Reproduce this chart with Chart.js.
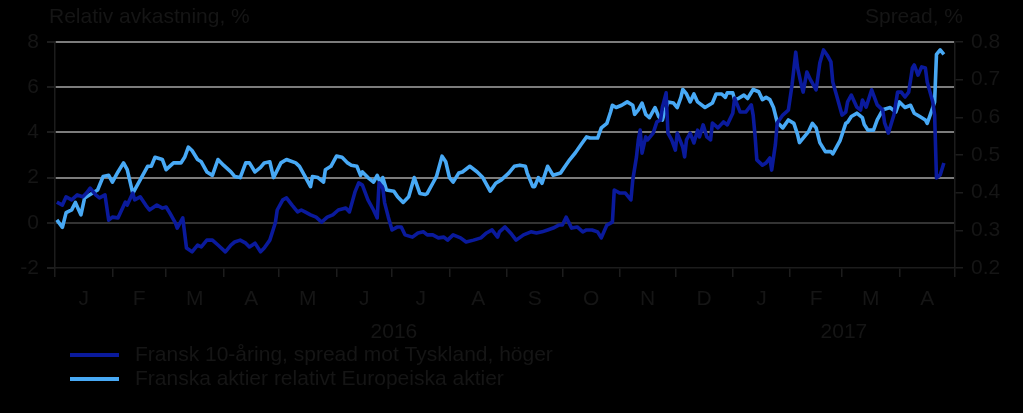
<!DOCTYPE html>
<html>
<head>
<meta charset="utf-8">
<script src="https://cdn.jsdelivr.net/npm/chart.js@4"></script>
<style>
  html, body { margin: 0; padding: 0; background: #000; }
</style>
</head>
<body>
<canvas id="myGraph" width="1023" height="413"></canvas>
<script>
// Månader (dagar från 1 jan 2016)
const monthLabels = ["J", "F", "M", "A", "M", "J", "J", "A", "S", "O", "N", "D", "J", "F", "M", "A"];
const monthStarts = [0, 31, 60, 91, 121, 152, 182, 213, 244, 274, 305, 335, 366, 397, 425, 456, 486];
const yearLabels = ["2016", "2017"];
const yearCenters = [183, 426];

const spreadLabel = "Fransk 10-åring, spread mot Tyskland, höger";
const aktierLabel = "Franska aktier relativt Europeiska aktier";

// Spread, % (höger axel)
const spreadDays = [1, 4, 6, 9, 12, 15, 17, 19, 22, 24, 27, 29, 31, 34, 36, 38, 39, 42, 43, 46, 49, 51, 55, 58, 60, 62, 65, 66, 69, 70, 71, 74, 77, 79, 82, 85, 88, 92, 95, 97, 100, 103, 105, 108, 111, 113, 116, 119, 120, 123, 125, 128, 131, 133, 135, 138, 141, 144, 147, 150, 153, 157, 159, 162, 164, 166, 169, 172, 174, 175, 177, 178, 180, 182, 185, 187, 189, 193, 196, 199, 201, 204, 207, 210, 212, 215, 219, 222, 226, 230, 233, 236, 239, 240, 243, 246, 249, 253, 257, 260, 263, 266, 269, 272, 274, 276, 279, 282, 285, 287, 290, 293, 295, 298, 301, 302, 305, 308, 311, 312, 314, 315, 316, 317, 319, 320, 323, 325, 327, 328, 330, 331, 333, 335, 336, 339, 340, 341, 343, 345, 347, 348, 350, 352, 354, 355, 358, 361, 363, 366, 367, 370, 373, 376, 377, 378, 379, 382, 384, 386, 387, 389, 390, 393, 396, 398, 400, 401, 403, 404, 406, 408, 409, 411, 413, 415, 417, 419, 420, 422, 425, 427, 428, 430, 433, 435, 436, 438, 441, 444, 447, 448, 450, 453, 455, 457, 459, 461, 463, 464, 466, 468, 470, 471, 474, 475, 476, 478, 480];
const spreadValues = [0.375, 0.367, 0.389, 0.381, 0.394, 0.389, 0.399, 0.412, 0.394, 0.386, 0.394, 0.327, 0.335, 0.333, 0.354, 0.375, 0.367, 0.399, 0.381, 0.389, 0.367, 0.354, 0.367, 0.359, 0.362, 0.346, 0.320, 0.306, 0.333, 0.293, 0.253, 0.243, 0.261, 0.256, 0.274, 0.274, 0.261, 0.243, 0.261, 0.269, 0.274, 0.266, 0.256, 0.266, 0.243, 0.253, 0.274, 0.320, 0.354, 0.381, 0.386, 0.367, 0.349, 0.354, 0.349, 0.341, 0.335, 0.322, 0.335, 0.341, 0.354, 0.359, 0.349, 0.402, 0.426, 0.420, 0.381, 0.354, 0.333, 0.426, 0.412, 0.373, 0.335, 0.301, 0.309, 0.309, 0.288, 0.282, 0.293, 0.296, 0.288, 0.288, 0.280, 0.282, 0.274, 0.288, 0.280, 0.269, 0.274, 0.280, 0.293, 0.301, 0.282, 0.296, 0.309, 0.293, 0.274, 0.288, 0.296, 0.293, 0.296, 0.301, 0.306, 0.314, 0.314, 0.335, 0.306, 0.309, 0.296, 0.301, 0.301, 0.296, 0.280, 0.314, 0.322, 0.407, 0.399, 0.399, 0.381, 0.434, 0.495, 0.540, 0.566, 0.505, 0.548, 0.540, 0.558, 0.588, 0.593, 0.627, 0.665, 0.558, 0.540, 0.513, 0.558, 0.521, 0.495, 0.540, 0.558, 0.532, 0.566, 0.548, 0.580, 0.548, 0.540, 0.585, 0.572, 0.588, 0.580, 0.611, 0.651, 0.614, 0.614, 0.633, 0.606, 0.553, 0.487, 0.473, 0.479, 0.492, 0.460, 0.527, 0.585, 0.606, 0.619, 0.686, 0.773, 0.731, 0.686, 0.667, 0.720, 0.699, 0.691, 0.673, 0.744, 0.779, 0.765, 0.747, 0.694, 0.659, 0.606, 0.614, 0.641, 0.659, 0.627, 0.619, 0.646, 0.627, 0.673, 0.633, 0.619, 0.585, 0.558, 0.606, 0.667, 0.667, 0.654, 0.667, 0.731, 0.739, 0.712, 0.734, 0.731, 0.694, 0.641, 0.606, 0.439, 0.447, 0.479];

// Relativ avkastning, % (vänster axel)
const aktierDays = [1, 4, 6, 9, 11, 14, 16, 19, 23, 26, 29, 31, 34, 37, 39, 42, 46, 50, 52, 54, 58, 60, 64, 68, 70, 72, 74, 77, 79, 82, 85, 88, 91, 95, 97, 100, 103, 105, 108, 111, 113, 116, 118, 122, 125, 130, 132, 135, 138, 139, 142, 145, 146, 149, 152, 155, 158, 160, 163, 165, 166, 169, 172, 174, 176, 177, 179, 183, 185, 188, 191, 194, 197, 200, 201, 204, 206, 209, 211, 213, 215, 218, 220, 224, 228, 231, 235, 238, 241, 245, 248, 251, 254, 255, 258, 259, 261, 263, 266, 269, 273, 275, 278, 281, 284, 287, 289, 293, 295, 298, 300, 301, 303, 306, 309, 312, 313, 315, 317, 319, 321, 324, 326, 328, 329, 331, 334, 336, 338, 339, 341, 343, 345, 347, 351, 355, 357, 360, 362, 363, 366, 367, 369, 372, 374, 377, 380, 382, 384, 386, 388, 390, 393, 396, 399, 401, 402, 404, 407, 409, 411, 413, 416, 419, 420, 422, 424, 427, 428, 430, 433, 436, 437, 439, 442, 444, 447, 451, 454, 456, 459, 462, 464, 467, 470, 471, 474, 475, 476, 478, 480];
const aktierValues = [0.13, -0.2, 0.45, 0.57, 0.9, 0.35, 1.1, 1.25, 1.45, 2.05, 2.1, 1.8, 2.25, 2.65, 2.35, 1.3, 1.9, 2.5, 2.5, 2.9, 2.8, 2.35, 2.65, 2.65, 2.9, 3.35, 3.2, 2.8, 2.7, 2.25, 2.1, 2.8, 2.55, 2.25, 2.05, 2.0, 2.65, 2.65, 2.25, 2.45, 2.65, 2.7, 2.0, 2.65, 2.8, 2.65, 2.5, 2.05, 1.6, 2.05, 2.0, 1.8, 2.35, 2.5, 2.95, 2.9, 2.65, 2.55, 2.5, 2.1, 2.25, 2.0, 1.8, 2.1, 1.7, 2.0, 1.45, 1.4, 1.15, 0.9, 1.15, 2.0, 1.3, 1.25, 1.3, 1.75, 2.05, 2.95, 2.7, 2.0, 1.8, 2.2, 2.25, 2.5, 2.25, 2.0, 1.4, 1.75, 1.9, 2.2, 2.5, 2.55, 2.5, 2.2, 1.6, 1.6, 2.0, 1.75, 2.5, 2.1, 2.2, 2.45, 2.8, 3.1, 3.45, 3.8, 3.75, 3.75, 4.2, 4.4, 4.9, 5.2, 5.1, 5.2, 5.35, 5.2, 4.8, 5.0, 5.3, 4.8, 4.65, 5.1, 4.7, 4.55, 4.85, 5.35, 5.3, 5.1, 5.55, 5.9, 5.7, 5.35, 5.7, 5.35, 5.1, 5.3, 5.7, 5.7, 5.55, 5.75, 5.75, 5.45, 5.5, 5.65, 5.5, 5.9, 5.8, 5.45, 5.55, 5.45, 5.1, 4.45, 4.2, 4.55, 4.4, 3.9, 3.55, 3.75, 4.05, 4.4, 4.2, 3.55, 3.15, 3.15, 3.05, 3.35, 3.65, 4.4, 4.45, 4.7, 4.85, 4.65, 4.35, 4.1, 4.1, 4.55, 5.0, 5.1, 4.9, 5.35, 5.1, 5.2, 4.85, 4.7, 4.55, 4.4, 5.1, 5.35, 7.45, 7.65, 7.45];

const textColor = "#151515";
const axisColor = "#1c1c1c";
const font = { family: '"Liberation Sans", Arial, sans-serif', size: 21 };

// Axeltitlar och förklaring
const extraText = {
  id: "extraText",
  afterDraw(chart) {
    const { ctx, chartArea } = chart;
    ctx.save();
    ctx.font = '21px "Liberation Sans", Arial, sans-serif';
    ctx.fillStyle = textColor;
    ctx.textBaseline = "middle";
    ctx.textAlign = "left";
    ctx.fillText("Relativ avkastning, %", chartArea.left - 6, 17);
    ctx.textAlign = "right";
    ctx.fillText("Spread, %", chartArea.right + 8, 17);
    chart.data.datasets.forEach((ds, i) => {
      const y = chartArea.bottom + 87 + i * 24;
      ctx.strokeStyle = ds.borderColor;
      ctx.lineWidth = 4;
      ctx.beginPath();
      ctx.moveTo(chartArea.left + 15, y);
      ctx.lineTo(chartArea.left + 64, y);
      ctx.stroke();
      ctx.textAlign = "left";
      ctx.fillText(ds.label, chartArea.left + 80, y);
    });
    ctx.restore();
  },
};

const ctx = document.getElementById("myGraph").getContext("2d");
const myChart = new Chart(ctx, {
  type: "line",
  data: {
    datasets: [
      {
        label: spreadLabel,
        data: spreadDays.map((d, i) => ({ x: d, y: spreadValues[i] })),
        yAxisID: "y2",
        borderColor: "#0a1a9c",
        borderWidth: 3.6,
        pointRadius: 0,
        tension: 0,
        borderJoinStyle: "round",
      },
      {
        label: aktierLabel,
        data: aktierDays.map((d, i) => ({ x: d, y: aktierValues[i] })),
        yAxisID: "y",
        borderColor: "#48a9f5",
        borderWidth: 3.6,
        pointRadius: 0,
        tension: 0,
        borderJoinStyle: "round",
      },
    ],
  },
  options: {
    responsive: false,
    animation: false,
    layout: { padding: { top: 42, bottom: 69, left: 0, right: 0 } },
    plugins: {
      legend: { display: false },
      tooltip: { enabled: false },
    },
    scales: {
      x: {
        type: "linear",
        position: "bottom",
        min: 0,
        max: 486,
        afterBuildTicks: (scale) => {
          const t = [];
          monthStarts.forEach((v, i) => {
            t.push({ value: v });
            if (i < monthLabels.length) t.push({ value: (v + monthStarts[i + 1]) / 2 });
          });
          scale.ticks = t;
        },
        ticks: {
          autoSkip: false,
          maxRotation: 0,
          padding: 10,
          color: textColor,
          font: font,
          callback: (value, index) => (index % 2 === 1 ? monthLabels[(index - 1) / 2] : ""),
        },
        grid: {
          drawOnChartArea: false,
          drawTicks: true,
          tickLength: 9,
          lineWidth: 1.5,
          tickColor: (c) => (c.index % 2 === 0 ? axisColor : "rgba(0,0,0,0)"),
        },
        border: { color: axisColor, width: 1.5 },
        afterFit: (scale) => { scale.height = 40; },
      },
      xYear: {
        type: "linear",
        position: "bottom",
        min: 0,
        max: 486,
        afterBuildTicks: (scale) => {
          scale.ticks = yearCenters.map((v) => ({ value: v }));
        },
        ticks: {
          autoSkip: false,
          maxRotation: 0,
          padding: 12,
          color: textColor,
          font: font,
          callback: (value, index) => yearLabels[index],
        },
        grid: { display: false, drawTicks: false },
        border: { display: false },
        afterFit: (scale) => { scale.height = 36; },
      },
      y: {
        type: "linear",
        position: "left",
        min: -2,
        max: 8,
        ticks: { stepSize: 2, color: textColor, font: font, padding: 8 },
        grid: {
          color: (c) => (c.tick.value === 0 ? "#333333" : c.tick.value === -2 ? "rgba(0,0,0,0)" : "#7c7c7c"),
          lineWidth: 2,
          tickColor: axisColor,
          tickLength: 8,
        },
        border: { color: axisColor, width: 1.5 },
        afterFit: (scale) => { scale.width = 55; },
      },
      y2: {
        type: "linear",
        position: "right",
        min: 0.2,
        max: 0.8,
        ticks: {
          stepSize: 0.1,
          color: textColor,
          font: font,
          padding: 8,
          callback: (v) => v.toFixed(1),
        },
        grid: { drawOnChartArea: false, tickColor: axisColor, tickLength: 8, lineWidth: 1.5 },
        border: { color: axisColor, width: 1.5 },
        afterFit: (scale) => { scale.width = 68; },
      },
    },
  },
  plugins: [extraText],
});
</script>
</body>
</html>
